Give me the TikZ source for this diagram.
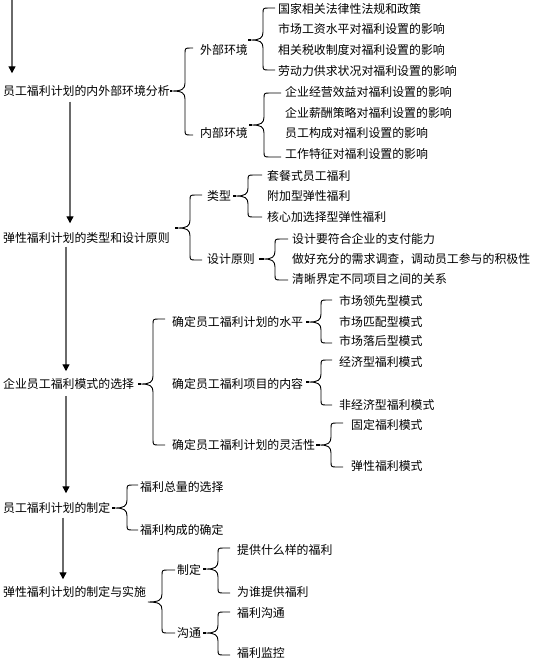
\documentclass[tikz,border=0pt]{standalone}
\usepackage{fontspec}
\newfontfamily\cjk{Noto Sans CJK SC}
\usetikzlibrary{arrows.meta}
\definecolor{arrgray}{HTML}{6A6A6A}
\tikzset{
  lbl/.style={anchor=west, inner sep=0pt, font=\cjk\fontsize{11.9}{14}\selectfont, text=black},
  flow/.style={draw=arrgray, line width=1.3pt, -{Triangle[width=7pt,length=7pt,color=black,fill=black]}},
  bracestyle/.style={draw=black, line width=0.9pt},
  stemstyle/.style={draw=black, line width=1.4pt}
}
% #1 stem start, #2 tip x, #3 vertical x, #4 top, #5 middle, #6 bottom, #7 tick end
\newcommand\brc[7]{%
  \draw[stemstyle] (#1,#5) -- (#2,#5);
  \draw[bracestyle] (#7,#4) -- (#3+6,#4) .. controls (#3,#4) .. (#3,#4+6)
    -- (#3,#5-8) .. controls (#3,#5-2) and (#3-3,#5) .. (#2,#5)
    .. controls (#3-3,#5) and (#3,#5+2) .. (#3,#5+8)
    -- (#3,#6-6) .. controls (#3,#6) .. (#3+6,#6) -- (#7,#6);
}
\begin{document}
\begin{tikzpicture}[x=1pt,y=-1pt]
\useasboundingbox (0,0) rectangle (534,662);
\fill[white] (0,0) rectangle (534,662);

% main column
\coordinate (top) at (12,0);
\node[lbl] (n1) at (3,91) {员工福利计划的内外部环境分析};
\node[lbl] (n2) at (3,238) {弹性福利计划的类型和设计原则};
\node[lbl] (n3) at (3,384) {企业员工福利模式的选择};
\node[lbl] (n4) at (3,508) {员工福利计划的制定};
\node[lbl] (n5) at (3,592) {弹性福利计划的制定与实施};

\draw[flow, shorten >=12pt] (top) -- ([xshift=9pt]n1.north west);
\draw[flow, shorten <=5pt, shorten >=9pt] ([xshift=67pt]n1.south west) -- ([xshift=67pt]n2.north west);
\draw[flow, shorten <=3pt, shorten >=7pt] ([xshift=63pt]n2.south west) -- ([xshift=63pt]n3.north west);
\draw[flow, shorten <=6pt, shorten >=9pt] ([xshift=63pt]n3.south west) -- ([xshift=63pt]n4.north west);
\draw[flow, shorten <=4pt, shorten >=7pt] ([xshift=60pt]n4.south west) -- ([xshift=60pt]n5.north west);

% section 1
\brc{170}{172}{185}{48}{91}{135}{193}
\node[lbl] (a1) at (200,50) {外部环境};
\node[lbl] (a2) at (200,133) {内部环境};
\brc{248}{251}{263}{8}{40}{70}{275}
\node[lbl] (a11) at (278,9) {国家相关法律性法规和政策};
\node[lbl] (a12) at (278,29) {市场工资水平对福利设置的影响};
\node[lbl] (a13) at (278,50) {相关税收制度对福利设置的影响};
\node[lbl] (a14) at (278,71) {劳动力供求状况对福利设置的影响};
\brc{249}{252}{264}{93}{125}{157}{281}
\node[lbl] (a21) at (285,92) {企业经营效益对福利设置的影响};
\node[lbl] (a22) at (285,113) {企业薪酬策略对福利设置的影响};
\node[lbl] (a23) at (285,133) {员工构成对福利设置的影响};
\node[lbl] (a24) at (285,154) {工作特征对福利设置的影响};

% section 2
\brc{175}{178}{190}{195}{228}{260}{202}
\node[lbl] (b1) at (207,196) {类型};
\node[lbl] (b2) at (207,259) {设计原则};
\brc{233}{236}{248}{175}{196}{217}{262}
\node[lbl] (b11) at (267,176) {套餐式员工福利};
\node[lbl] (b12) at (267,196) {附加型弹性福利};
\node[lbl] (b13) at (267,217) {核心加选择型弹性福利};
\brc{259}{264}{275}{239}{259}{280}{288}
\node[lbl] (b21) at (292,239) {设计要符合企业的支付能力};
\node[lbl] (b22) at (292,259) {做好充分的需求调查，调动员工参与的积极性};
\node[lbl] (b23) at (292,279) {清晰界定不同项目之间的关系};

% section 3
\brc{138}{141}{153}{319}{384}{445}{165}
\node[lbl] (c1) at (172,322) {确定员工福利计划的水平};
\node[lbl] (c2) at (172,384) {确定员工福利项目的内容};
\node[lbl] (c3) at (172,445) {确定员工福利计划的灵活性};
\brc{306}{309}{321}{300}{322}{343}{332}
\node[lbl] (c11) at (339,301) {市场领先型模式};
\node[lbl] (c12) at (339,322) {市场匹配型模式};
\node[lbl] (c13) at (339,341) {市场落后型模式};
\brc{306}{309}{321}{360}{382}{405}{332}
\node[lbl] (c21) at (339,362) {经济型福利模式};
\node[lbl] (c22) at (339,405) {非经济型福利模式};
\brc{316}{320}{331}{423}{445}{467}{343}
\node[lbl] (c31) at (351,425) {固定福利模式};
\node[lbl] (c32) at (351,466) {弹性福利模式};

% section 4
\brc{112}{115}{127}{485}{508}{530}{138}
\node[lbl] (d1) at (140,487) {福利总量的选择};
\node[lbl] (d2) at (140,530) {福利构成的确定};

% section 5
\brc{148}{148}{162}{570}{602}{633}{175}
\node[lbl] (e1) at (177,570) {制定};
\node[lbl] (e2) at (177,633) {沟通};
\brc{203}{206}{218}{548}{569}{593}{230}
\node[lbl] (e11) at (237,550) {提供什么样的福利};
\node[lbl] (e12) at (237,592) {为谁提供福利};
\brc{203}{206}{218}{612}{633}{655}{230}
\node[lbl] (e21) at (237,613) {福利沟通};
\node[lbl] (e22) at (237,653) {福利监控};
\end{tikzpicture}
\end{document}
